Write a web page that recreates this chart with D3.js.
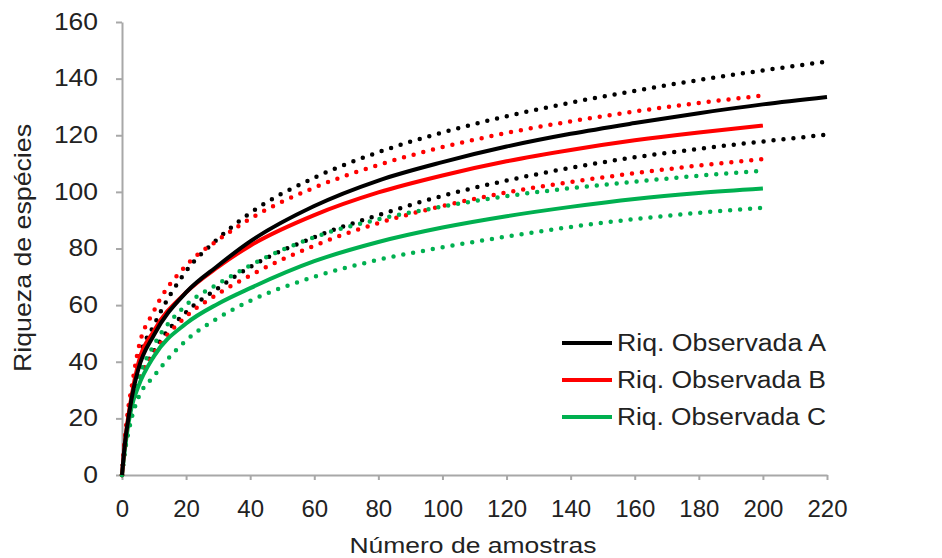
<!DOCTYPE html>
<html>
<head>
<meta charset="utf-8">
<script src="https://cdn.jsdelivr.net/npm/d3@7"></script>
<style>
  body { margin: 0; background: #fff; }
  text { font-family: "Liberation Sans", Arial, sans-serif; fill: #222; }
</style>
</head>
<body>
<svg id="chart" width="942" height="558"></svg>
<script>
// sample sizes
const samples = [0, 1, 2, 3, 5, 10, 20, 30, 40, 60, 80, 100, 120, 140, 160, 180, 200, 220];

// observed richness (solid) and dotted upper / lower bounds
const obsA   = [0, 12, 20, 27, 37, 49.5, 64.5, 74, 82.5, 95, 104, 110.5, 116, 120.5, 124.3, 127.8, 130.9, 133.5];
const upperA = [0, 13, 22, 29, 40, 53, 72, 83.5, 92.5, 105, 114, 121, 126.7, 131.5, 135.7, 139.5, 142.9, 146];
const lowerA = [0, 10, 17, 23, 32, 44, 57.5, 66, 73.5, 84, 91.8, 98.6, 104, 108.5, 112.2, 115.2, 117.8, 120.2];

const obsB   = [0, 12.5, 21, 28, 39, 51, 64.5, 73.5, 81, 91.8, 99.8, 105.8, 110.8, 114.8, 118.2, 121, 123.4];
const upperB = [0, 14, 24, 31, 44, 58, 74, 83, 90.5, 101.5, 109.5, 115.8, 120.8, 124.9, 128.4, 131.4, 134];
const lowerB = [0, 10, 17, 23, 32, 43, 56, 64, 70.5, 81, 89, 95, 99.8, 103.5, 106.6, 109.3, 111.6];

const obsC   = [0, 10, 18, 24, 31, 42, 53.5, 60.5, 66, 75.5, 82.3, 87.4, 91.4, 94.7, 97.5, 99.6, 101.2];
const upperC = [0, 11, 19, 26, 34, 46, 60, 67.5, 74, 84, 90.3, 94.8, 98.5, 101.3, 103.6, 105.7, 107.5];
const lowerC = [0, 9, 15, 20, 27, 35, 47.5, 55.5, 61.5, 70, 76, 80.4, 84.2, 87.6, 90.4, 92.6, 94.4];

const legendLabels = ["Riq. Observada A", "Riq. Observada B", "Riq. Observada C"];
const colors = ["#000000", "#ff0000", "#00b050"];

const xTicks = d3.range(0, 221, 20);
const yTicks = d3.range(0, 161, 20);

const svg = d3.select("#chart");
const margin = { top: 22, left: 122 };
const width = 705;
const height = 453;

const g = svg.append("g").attr("transform", `translate(${margin.left},${margin.top})`);

const x = d3.scaleLinear().domain([0, 220]).range([0, width]);
const y = d3.scaleLinear().domain([0, 160]).range([height, 0]);

const axisColor = "#a8a8a8";

// y axis
const yAxis = g.append("g")
  .call(d3.axisLeft(y).tickValues(yTicks).tickSize(6).tickSizeOuter(0).tickPadding(0));
yAxis.selectAll("text")
  .attr("x", -24 / 1.15)
  .attr("transform", "scale(1.15,1)")
  .style("font-size", "23px");

// x axis
const xAxis = g.append("g")
  .attr("transform", `translate(0,${height})`)
  .call(d3.axisBottom(x).tickValues(xTicks).tickSize(5).tickSizeOuter(0));
xAxis.selectAll("text")
  .attr("dy", null)
  .attr("y", 42)
  .style("font-size", "24px");

[yAxis, xAxis].forEach(a => {
  a.select(".domain").attr("stroke", axisColor).attr("stroke-width", 2);
  a.selectAll(".tick line").attr("stroke", axisColor).attr("stroke-width", 2);
  a.selectAll("text").attr("fill", "#222").style("font-family", "Liberation Sans, Arial, sans-serif");
});

const line = d3.line()
  .x((d, i) => x(samples[i]))
  .y(d => y(d))
  .curve(d3.curveMonotoneX);

const dotted = [[upperA, colors[0]], [lowerA, colors[0]], [upperB, colors[1]], [lowerB, colors[1]], [upperC, colors[2]], [lowerC, colors[2]]];
dotted.forEach(([vals, c]) => {
  g.append("path")
    .attr("d", line(vals))
    .attr("fill", "none")
    .attr("stroke", c)
    .attr("stroke-width", 4.5)
    .attr("stroke-linecap", "round")
    .attr("stroke-dasharray", "0,10");
});

[[obsC, colors[2]], [obsB, colors[1]], [obsA, colors[0]]].forEach(([vals, c]) => {
  g.append("path")
    .attr("d", line(vals))
    .attr("fill", "none")
    .attr("stroke", c)
    .attr("stroke-width", 4);
});

// legend
const legend = svg.append("g");
legendLabels.forEach((lab, i) => {
  const ly = 343 + i * 37;
  legend.append("line")
    .attr("x1", 562).attr("x2", 612)
    .attr("y1", ly).attr("y2", ly)
    .attr("stroke", colors[i])
    .attr("stroke-width", 4);
  legend.append("text")
    .attr("x", 617)
    .attr("y", ly)
    .attr("dy", "0.36em")
    .attr("textLength", 209)
    .attr("lengthAdjust", "spacingAndGlyphs")
    .style("font-size", "23px")
    .text(lab);
});

// axis titles
svg.append("text")
  .attr("x", 473)
  .attr("y", 553)
  .attr("text-anchor", "middle")
  .attr("textLength", 247)
  .attr("lengthAdjust", "spacingAndGlyphs")
  .style("font-size", "22px")
  .text("Número de amostras");

svg.append("text")
  .attr("transform", "translate(31,248) rotate(-90)")
  .attr("text-anchor", "middle")
  .attr("textLength", 248)
  .attr("lengthAdjust", "spacingAndGlyphs")
  .style("font-size", "24px")
  .text("Riqueza de espécies");
</script>
</body>
</html>
